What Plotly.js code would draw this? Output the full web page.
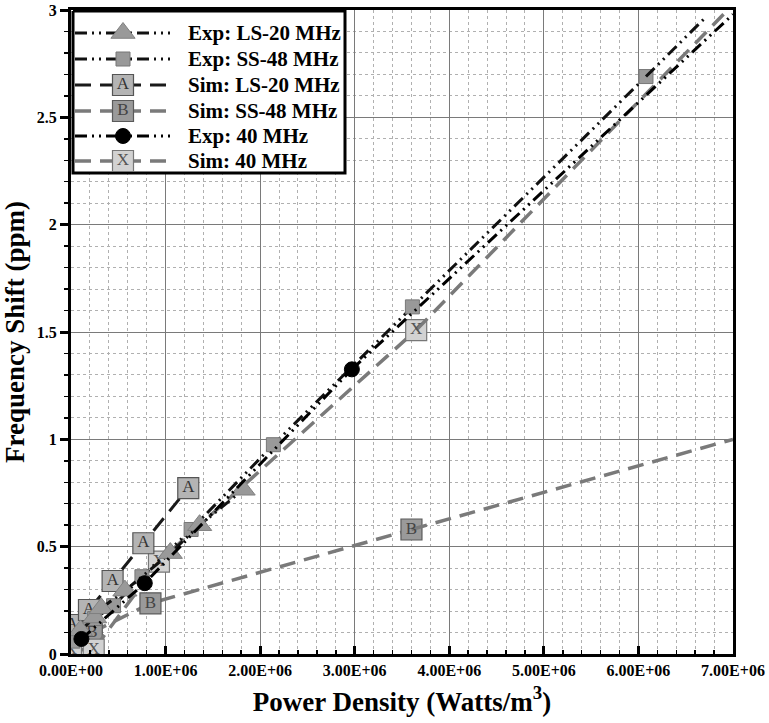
<!DOCTYPE html>
<html><head><meta charset="utf-8">
<script src="https://cdn.plot.ly/plotly-3.0.1.min.js"></script>
<style>html,body{margin:0;padding:0;background:#fff}#chart{width:769px;height:723px}</style>
</head><body><div id="chart"></div>
<script>
// ---- data ----
const expLS20X = [0.10e6, 0.25e6, 0.32e6, 0.57e6, 1.05e6, 1.36e6, 1.82e6];
const expLS20Y = [0.11, 0.17, 0.213, 0.295, 0.47, 0.60, 0.765];

const expSS48X = [0.02e6, 0.25e6, 0.45e6, 0.75e6, 1.27e6, 2.14e6, 3.61e6, 6.08e6];
const expSS48Y = [0.06, 0.165, 0.225, 0.36, 0.58, 0.975, 1.617, 2.69];
const expSS48EndX = [6.72e6];
const expSS48EndY = [2.97];

const simLS20X = [0.01e6, 0.19e6, 0.44e6, 0.765e6, 1.24e6];
const simLS20Y = [0.135, 0.205, 0.34, 0.516, 0.773];

const simSS48X = [0.22e6, 0.84e6, 3.6e6];
const simSS48Y = [0.10, 0.236, 0.58];
const simSS48EndX = [7.0e6];
const simSS48EndY = [1.0];

const exp40X = [0.11e6, 0.78e6, 2.97e6];
const exp40Y = [0.07, 0.33, 1.326];
const exp40EndX = [7.0e6];
const exp40EndY = [2.98];

const sim40X = [0.0, 0.24e6, 0.93e6, 3.65e6];
const sim40Y = [0.02, 0.02, 0.43, 1.509];
const sim40EndX = [6.9e6];
const sim40EndY = [2.98];

const seriesNames = ['Exp: LS-20 MHz', 'Exp: SS-48 MHz', 'Sim: LS-20 MHz', 'Sim: SS-48 MHz', 'Exp: 40 MHz', 'Sim: 40 MHz'];
const xTickVals = [0, 1e6, 2e6, 3e6, 4e6, 5e6, 6e6, 7e6];
const xTickLabels = ['0.00E+00', '1.00E+06', '2.00E+06', '3.00E+06', '4.00E+06', '5.00E+06', '6.00E+06', '7.00E+06'];
const yTickVals = [0, 0.5, 1, 1.5, 2, 2.5, 3];
const yTickLabels = ['0', '0.5', '1', '1.5', '2', '2.5', '3'];

// ---- styling ----
const FONT = 'Liberation Serif, Times New Roman, serif';
const DDD = '12px,5px,2px,5px,2px,5px';
const LONG = '16px,9px';

const styles = [
  {line: {color: '#111', width: 3, dash: DDD},
   marker: {symbol: 'triangle-up', size: 21, color: '#999', line: {color: '#808080', width: 1}}, letter: null},
  {line: {color: '#111', width: 3, dash: DDD},
   marker: {symbol: 'square', size: 14, color: '#999', line: {color: '#777', width: 1}}, letter: null},
  {line: {color: '#1a1a1a', width: 3, dash: LONG},
   marker: {symbol: 'square', size: 21, color: '#b4b4b4', line: {color: '#555', width: 1.2}}, letter: 'A', lc: '#333'},
  {line: {color: '#7a7a7a', width: 3.5, dash: LONG},
   marker: {symbol: 'square', size: 21, color: '#9a9a9a', line: {color: '#5a5a5a', width: 1.2}}, letter: 'B', lc: '#444'},
  {line: {color: '#000', width: 3, dash: DDD},
   marker: {symbol: 'circle', size: 15, color: '#000', line: {color: '#000', width: 1}}, letter: null},
  {line: {color: '#7a7a7a', width: 3.5, dash: LONG},
   marker: {symbol: 'square', size: 21, color: '#d2d2d2', line: {color: '#777', width: 1.2}}, letter: 'X', lc: '#555'}
];

const traces = [];
function addSeries(idx, x, y, endX, endY) {
  const s = styles[idx];
  traces.push({x: x, y: y, name: seriesNames[idx], mode: 'lines+markers', line: s.line, marker: s.marker,
    showlegend: false, type: 'scatter', cliponaxis: true});
  if (endX) {
    traces.push({x: [x[x.length - 1]].concat(endX), y: [y[y.length - 1]].concat(endY),
      mode: 'lines', line: s.line, showlegend: false, hoverinfo: 'skip', type: 'scatter'});
  }
  if (s.letter) {
    traces.push({x: x, y: y, mode: 'text', text: x.map(() => s.letter), showlegend: false,
      textposition: 'middle center', cliponaxis: true,
      textfont: {family: FONT, size: 17, color: s.lc}, hoverinfo: 'skip', type: 'scatter'});
  }
}

addSeries(3, simSS48X, simSS48Y, simSS48EndX, simSS48EndY);
addSeries(5, sim40X, sim40Y, sim40EndX, sim40EndY);
addSeries(2, simLS20X, simLS20Y, null, null);
addSeries(1, expSS48X, expSS48Y, expSS48EndX, expSS48EndY);
addSeries(0, expLS20X, expLS20Y, null, null);
addSeries(4, exp40X, exp40Y, exp40EndX, exp40EndY);

// ---- legend box, drawn on an overlay axis measured in pixels ----
const LG = {left: 73, right: 345, top: 11, bottom: 173, lineL: 75, lineR: 170, mid: 123, textX: 186,
  rows: [33, 59, 85, 111, 136, 161]};
traces.push({x: [LG.left, LG.right, LG.right, LG.left, LG.left], y: [LG.top, LG.top, LG.bottom, LG.bottom, LG.top],
  xaxis: 'x2', yaxis: 'y2', mode: 'lines', fill: 'toself', fillcolor: '#fff',
  line: {color: '#000', width: 3}, showlegend: false, hoverinfo: 'skip', type: 'scatter'});
const annotations = [];
seriesNames.forEach((name, i) => {
  const s = styles[i];
  const r = LG.rows[i];
  traces.push({x: [LG.lineL, LG.lineR], y: [r, r], xaxis: 'x2', yaxis: 'y2', mode: 'lines', line: s.line,
    showlegend: false, hoverinfo: 'skip', type: 'scatter'});
  traces.push({x: [LG.mid], y: [r], xaxis: 'x2', yaxis: 'y2', mode: s.letter ? 'markers+text' : 'markers',
    marker: s.marker, text: s.letter ? [s.letter] : undefined, textposition: 'middle center',
    textfont: {family: FONT, size: 17, color: s.lc || '#000'},
    showlegend: false, hoverinfo: 'skip', type: 'scatter'});
  annotations.push({text: name, xref: 'x2', yref: 'y2', x: LG.textX, y: r, xanchor: 'left', yanchor: 'middle',
    showarrow: false, font: {family: FONT, size: 21, weight: 'bold', color: '#000'}});
});

const tickFont = {family: FONT, size: 16, color: '#000', weight: 'bold'};
const layout = {
  width: 769, height: 723,
  margin: {l: 71, r: 36, t: 10, b: 69, pad: 0},
  paper_bgcolor: '#fff', plot_bgcolor: '#fff',
  font: {family: FONT, color: '#000'},
  showlegend: false,
  xaxis: {
    range: [0, 7e6], tickvals: xTickVals, ticktext: xTickLabels, tickfont: tickFont,
    ticks: 'inside', ticklen: 8, tickwidth: 3, tickcolor: '#000',
    showline: true, linewidth: 3, linecolor: '#000', mirror: true,
    showgrid: true, gridcolor: '#7a7a7a', gridwidth: 1, zeroline: false,
    minor: {tick0: 0, dtick: 2e5, showgrid: true, gridcolor: '#b0b0b0', griddash: 'dot', gridwidth: 1,
      ticks: 'inside', ticklen: 4, tickwidth: 1.5, tickcolor: '#000'},
    title: {text: 'Power Density (Watts/m<sup>3</sup>)', font: {family: FONT, size: 27, weight: 'bold', color: '#000'}, standoff: 14},
    automargin: false
  },
  yaxis: {
    range: [0, 3], tickvals: yTickVals, ticktext: yTickLabels, tickfont: tickFont,
    ticks: 'outside', ticklen: 8, tickwidth: 3, tickcolor: '#000',
    showline: true, linewidth: 3, linecolor: '#000', mirror: true,
    showgrid: true, gridcolor: '#7a7a7a', gridwidth: 1, zeroline: false,
    minor: {tick0: 0, dtick: 0.1, showgrid: true, gridcolor: '#b0b0b0', griddash: 'dot', gridwidth: 1,
      ticks: 'outside', ticklen: 4, tickwidth: 1.5, tickcolor: '#000'},
    title: {text: 'Frequency Shift (ppm)', font: {family: FONT, size: 27, weight: 'bold', color: '#000'}, standoff: 10},
    automargin: false
  },
  xaxis2: {overlaying: 'x', anchor: 'y2', range: [71, 733], visible: false, fixedrange: true},
  yaxis2: {overlaying: 'y', anchor: 'x2', range: [654, 10], visible: false, fixedrange: true},
  annotations: annotations
};

Plotly.newPlot('chart', traces, layout, {displayModeBar: false, staticPlot: true});
</script></body></html>
